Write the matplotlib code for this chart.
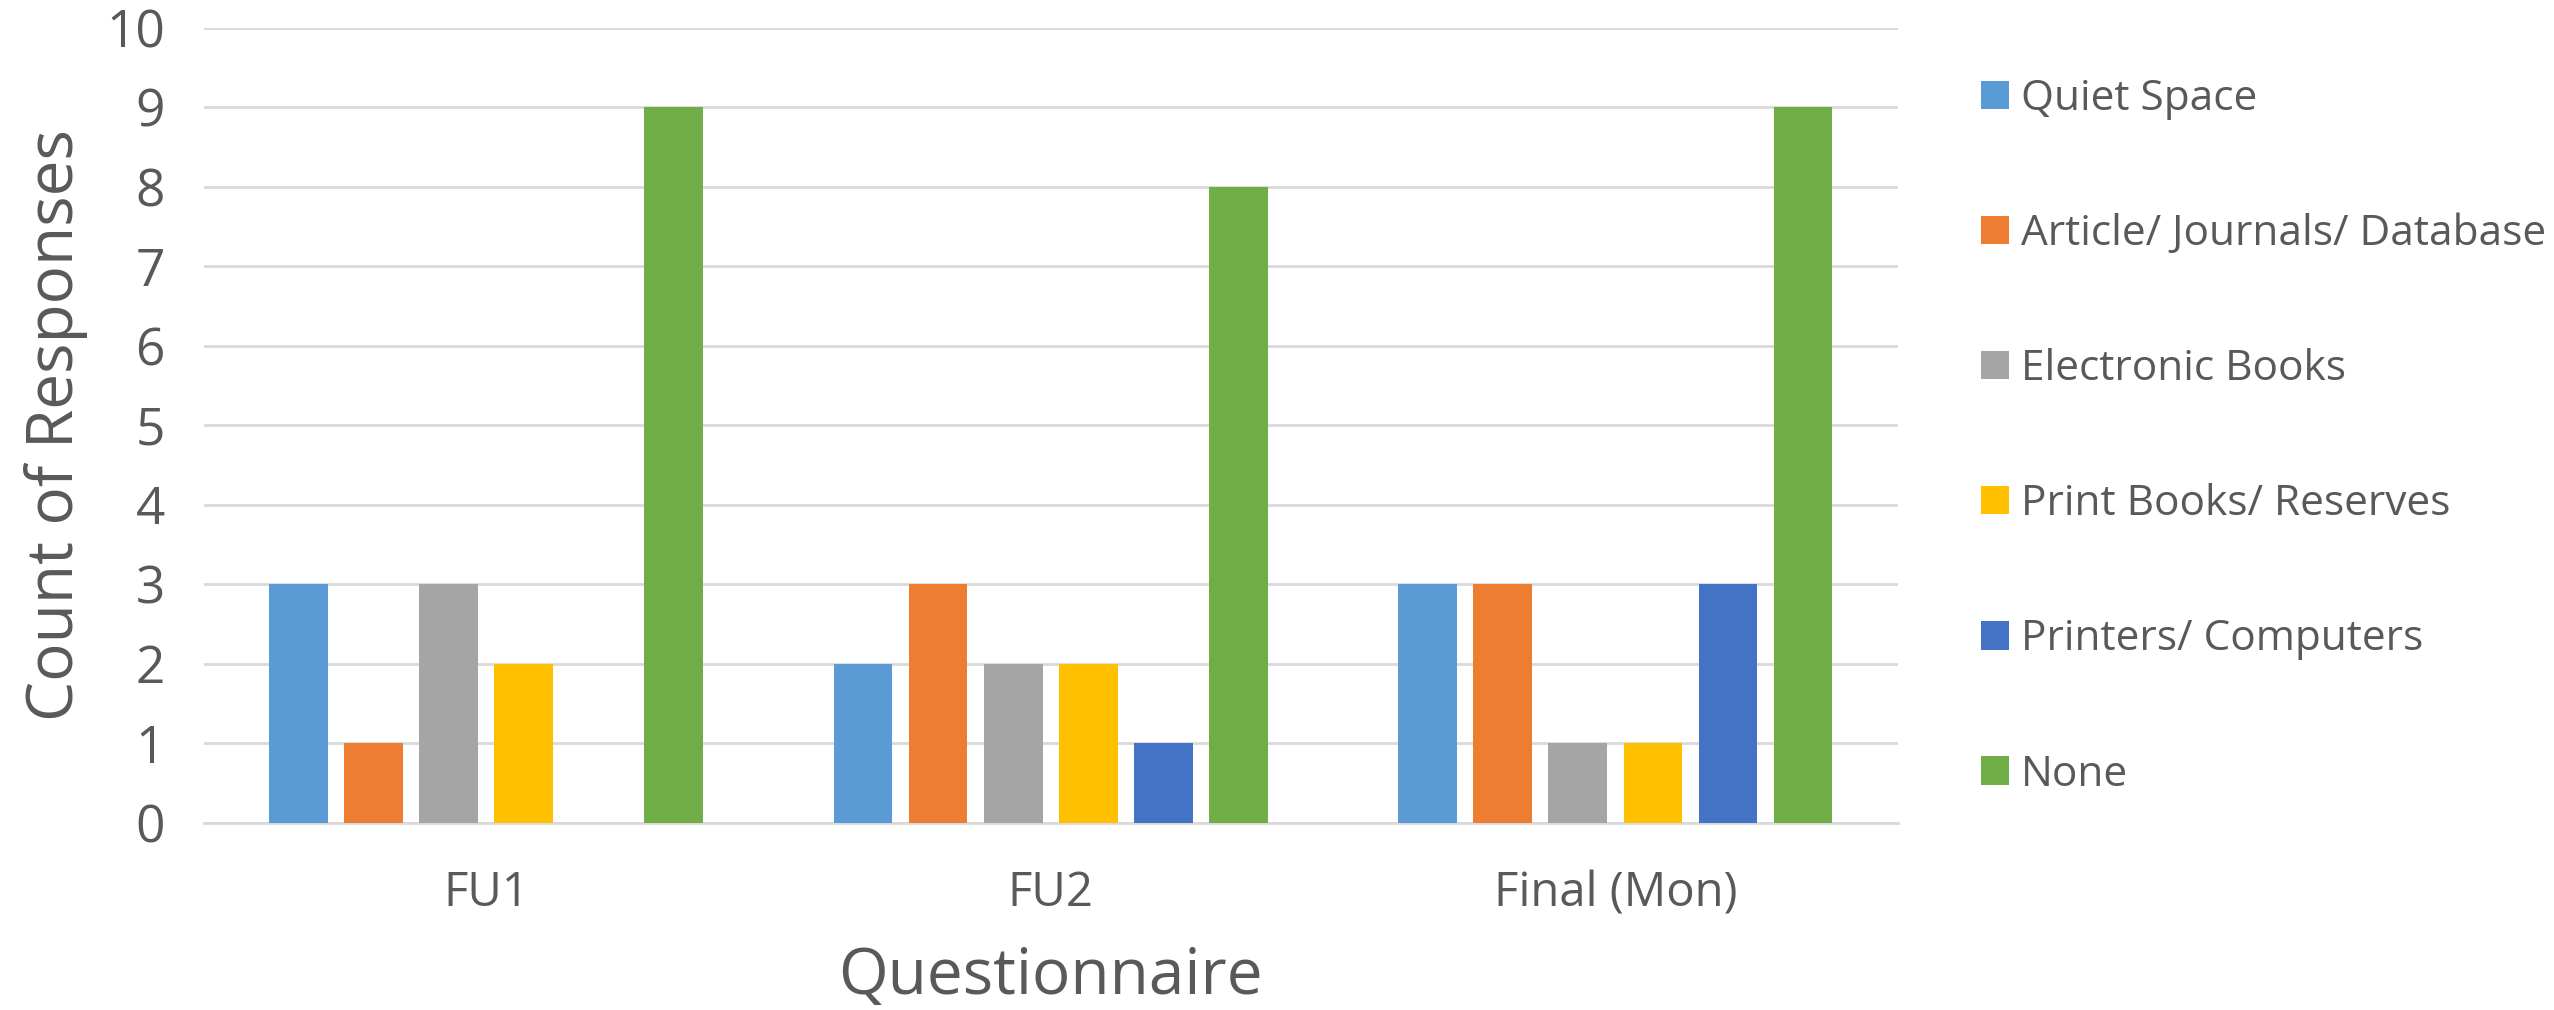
import matplotlib.pyplot as plt
import numpy as np

plt.rcParams['font.family'] = ['Open Sans', 'DejaVu Sans']

questionnaires = ["FU1", "FU2", "Final (Mon)"]
series_names = ["Quiet Space", "Article/ Journals/ Database", "Electronic Books",
                "Print Books/ Reserves", "Printers/ Computers", "None"]
quiet_space = [3, 2, 3]
articles = [1, 3, 3]
ebooks = [3, 2, 1]
print_books = [2, 2, 1]
printers = [0, 1, 3]
none = [9, 8, 9]
colors = ["#5B9BD5", "#ED7D31", "#A5A5A5", "#FFC000", "#4472C4", "#70AD47"]

values = [quiet_space, articles, ebooks, print_books, printers, none]

fig = plt.figure(figsize=(25.54, 10.10), dpi=100)
ax = fig.add_axes([0.0798, 0.1855, 0.6632, 0.7871])

x = np.arange(len(questionnaires))
pitch = 0.133
width = 0.104
for i in range(len(series_names)):
    ax.bar(x + (i - 2.5) * pitch, values[i], width, color=colors[i],
           label=series_names[i], zorder=3)

ax.set_xlim(-0.5, 2.5)
ax.set_ylim(0, 10)
ax.set_yticks(range(0, 11))
ax.set_xticks(x)
ax.set_xticklabels(questionnaires)
ax.grid(axis='y', color='#D9D9D9', linewidth=2, zorder=0)
for s in ['top', 'right', 'left']:
    ax.spines[s].set_visible(False)
ax.spines['bottom'].set_color('#D9D9D9')
ax.spines['bottom'].set_linewidth(2)
ax.tick_params(axis='both', length=0, colors='#595959')
ax.tick_params(axis='y', labelsize=37, pad=28)
ax.tick_params(axis='x', labelsize=34, pad=34)

ax.set_ylabel("Count of Responses", fontsize=46, color='#595959', labelpad=13)
ax.set_xlabel("Questionnaire", fontsize=46, color='#595959', labelpad=20)

fig.legend(loc='upper left', bbox_to_anchor=(0.769, 0.94), frameon=False,
           fontsize=30.5, labelcolor='#595959', handlelength=0.65, handleheight=0.65,
           handletextpad=0.3, labelspacing=2.2, borderaxespad=0)

plt.savefig("out.png")
